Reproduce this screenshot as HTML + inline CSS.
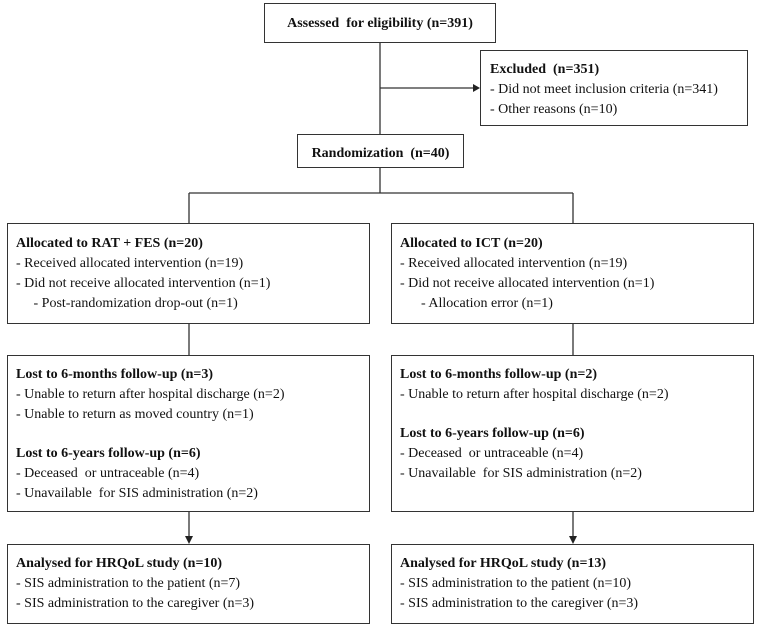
<!DOCTYPE html>
<html><head><style>
body{margin:0;width:760px;height:629px;background:#fff;position:relative;font-family:"Liberation Serif",serif;font-size:14px;color:#111;overflow:hidden}
.b{position:absolute;border:1.3px solid #333;box-sizing:border-box}
.t{position:absolute;line-height:20px;white-space:nowrap}
.t b{font-weight:bold}
svg{position:absolute;left:0;top:0}
</style></head><body>
<svg width="760" height="629">
<g stroke="#333" stroke-width="1.3" fill="none">
<line x1="380" y1="42" x2="380" y2="135"/>
<line x1="380" y1="88" x2="476" y2="88"/>
<line x1="380" y1="167" x2="380" y2="193"/>
<line x1="189" y1="193" x2="573" y2="193"/>
<line x1="189" y1="193" x2="189" y2="223"/>
<line x1="573" y1="193" x2="573" y2="223"/>
<line x1="189" y1="323" x2="189" y2="355"/>
<line x1="573" y1="323" x2="573" y2="355"/>
<line x1="189" y1="511" x2="189" y2="538"/>
<line x1="573" y1="511" x2="573" y2="538"/>
</g>
<g fill="#222">
<polygon points="480,88 473,84 473,92"/>
<polygon points="189,544 185,536 193,536"/>
<polygon points="573,544 569,536 577,536"/>
</g>
</svg>
<div class="b" style="left:264px;top:3px;width:232px;height:40px"></div>
<div class="t" style="left:264px;width:232px;text-align:center;top:14px"><b>Assessed&nbsp; for eligibility (n=391)</b></div>
<div class="b" style="left:480px;top:50px;width:268px;height:76px"></div>
<div class="t" style="left:490px;top:60px"><b>Excluded&nbsp; (n=351)</b><br>- Did not meet inclusion criteria (n=341)<br>- Other reasons (n=10)</div>
<div class="b" style="left:297px;top:134px;width:167px;height:34px"></div>
<div class="t" style="left:297px;width:167px;text-align:center;top:144px"><b>Randomization&nbsp; (n=40)</b></div>
<div class="b" style="left:7px;top:223px;width:363px;height:101px"></div>
<div class="t" style="left:16px;top:234px"><b>Allocated to RAT + FES (n=20)</b><br>- Received allocated intervention (n=19)<br>- Did not receive allocated intervention (n=1)<br>&nbsp;&nbsp;&nbsp;&nbsp;&nbsp;- Post-randomization drop-out (n=1)</div>
<div class="b" style="left:391px;top:223px;width:363px;height:101px"></div>
<div class="t" style="left:400px;top:234px"><b>Allocated to ICT (n=20)</b><br>- Received allocated intervention (n=19)<br>- Did not receive allocated intervention (n=1)<br>&nbsp;&nbsp;&nbsp;&nbsp;&nbsp;&nbsp;- Allocation error (n=1)</div>
<div class="b" style="left:7px;top:355px;width:363px;height:157px"></div>
<div class="t" style="left:16px;top:365px"><b>Lost to 6-months follow-up (n=3)</b><br>- Unable to return after hospital discharge (n=2)<br>- Unable to return as moved country (n=1)</div>
<div class="t" style="left:16px;top:444px"><b>Lost to 6-years follow-up (n=6)</b><br>- Deceased&nbsp; or untraceable (n=4)<br>- Unavailable&nbsp; for SIS administration (n=2)</div>
<div class="b" style="left:391px;top:355px;width:363px;height:157px"></div>
<div class="t" style="left:400px;top:365px"><b>Lost to 6-months follow-up (n=2)</b><br>- Unable to return after hospital discharge (n=2)</div>
<div class="t" style="left:400px;top:424px"><b>Lost to 6-years follow-up (n=6)</b><br>- Deceased&nbsp; or untraceable (n=4)<br>- Unavailable&nbsp; for SIS administration (n=2)</div>
<div class="b" style="left:7px;top:544px;width:363px;height:80px"></div>
<div class="t" style="left:16px;top:554px"><b>Analysed for HRQoL study (n=10)</b><br>- SIS administration to the patient (n=7)<br>- SIS administration to the caregiver (n=3)</div>
<div class="b" style="left:391px;top:544px;width:363px;height:80px"></div>
<div class="t" style="left:400px;top:554px"><b>Analysed for HRQoL study (n=13)</b><br>- SIS administration to the patient (n=10)<br>- SIS administration to the caregiver (n=3)</div>
</body></html>
